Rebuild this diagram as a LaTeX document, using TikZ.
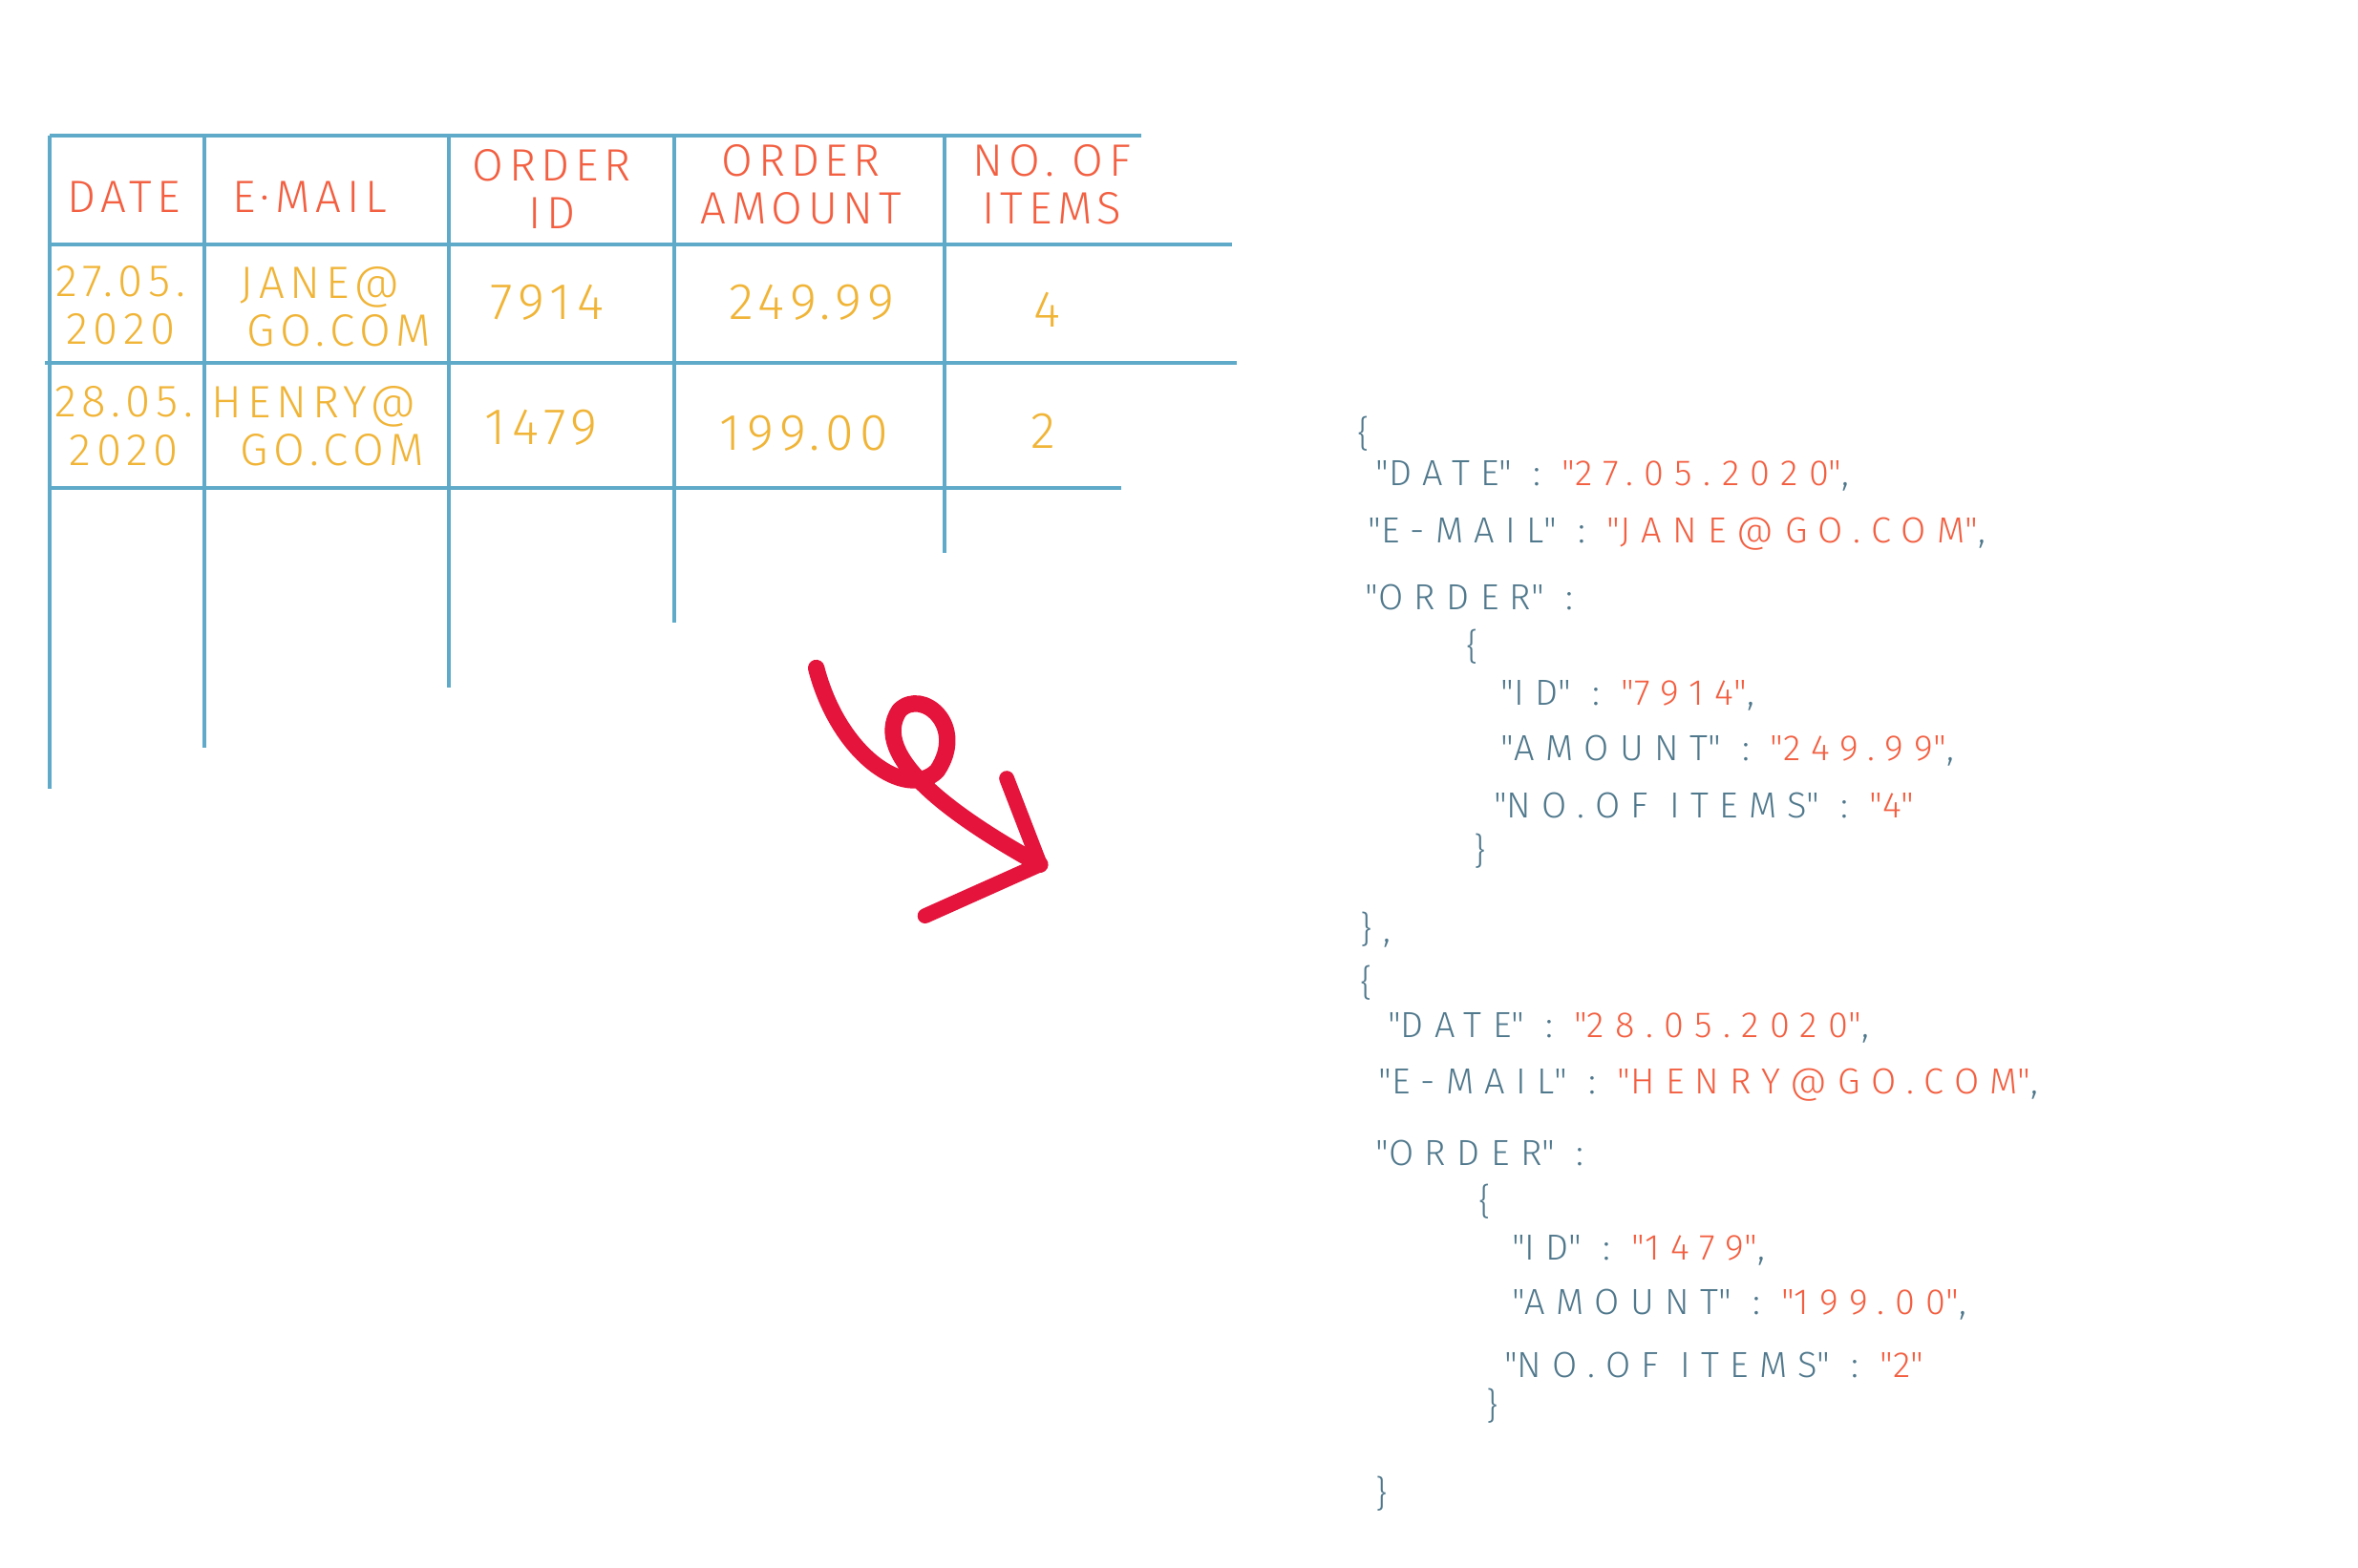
\documentclass[tikz,border=0pt]{standalone}
\usepackage{fontspec}
\setmainfont{Fira Sans Light}[LetterSpace=12]
\definecolor{tblue}{RGB}{95,170,200}
\definecolor{hred}{RGB}{242,95,65}
\definecolor{dyel}{RGB}{240,180,55}
\definecolor{jkey}{RGB}{80,120,140}
\definecolor{arrred}{RGB}{228,20,60}
\tikzset{
    grid/.style={
           draw=tblue, line width=2.5pt
           },
    head/.style={
           text=hred, font=\fontsize{30}{32}\selectfont, inner sep=0pt, align=center
           },
    cell/.style={
           text=dyel, font=\fontsize{34}{34}\selectfont, inner sep=0pt, align=center
           },
    json/.style={
           anchor=west, text=jkey, inner sep=0pt,
           font=\fontsize{24}{26}\selectfont\addfontfeature{LetterSpace=30}
           }
}
\newcommand{\val}[1]{\textcolor{hred}{#1}}
\newcommand{\q}{\textquotedbl}
\begin{document}
\begin{tikzpicture}[x=1pt, y=-1pt]
\useasboundingbox (0,0) rectangle (1560,1037);
   % table lines
   \draw[grid] (33,90) -- (755,90);
   \draw[grid] (33,162) -- (815,162);
   \draw[grid] (30,240) -- (818,240);
   \draw[grid] (33,323) -- (742,323);
   \draw[grid] (33,90) -- (33,522);
   \draw[grid] (135,90) -- (135,495);
   \draw[grid] (297,90) -- (297,455);
   \draw[grid] (446,90) -- (446,412);
   \draw[grid] (625,90) -- (625,366);
   % header
   \node[head] (hdate) at (82,130) {DATE};
   \node[head] (hmail) at (205,130) {E·MAIL};
   \node[head] (hid) at (365,125) {ORDER\\ID};
   \node[head] (hamt) at (530,122) {ORDER\\AMOUNT};
   \node[head] (hno) at (696,122) {NO. OF\\ITEMS};
   % rows
   \node[cell, font=\fontsize{30}{32}\selectfont] (d1) at (80,202) {27.05.\\2020};
   \node[cell, font=\fontsize{30}{32}\selectfont] (m1) at (212,203) {JANE@\\\ \ GO.COM};
   \node[cell] (i1) at (362,200) {7914};
   \node[cell] (a1) at (537,200) {249.99};
   \node[cell] (n1) at (693,205) {4};
   \node[cell, font=\fontsize{30}{32}\selectfont] (d2) at (82,282) {28.05.\\2020};
   \node[cell, font=\fontsize{30}{32}\selectfont] (m2) at (208,282) {HENRY@\\\ \ GO.COM};
   \node[cell] (i2) at (358,283) {1479};
   \node[cell] (a2) at (532,287) {199.00};
   \node[cell] (n2) at (690,285) {2};
   % arrow
   \draw[arrred, line width=11pt, line cap=round, line join=round]
     (540,442) .. controls (555,500) and (600,530) .. (620,510)
     .. controls (640,480) and (610,455) .. (595,470)
     .. controls (575,500) and (630,540) .. (688,572);
   \draw[arrred, line width=10pt, line cap=round, line join=round]
     (666,515) -- (688,572) -- (612,606);
   % json
   \node[json] (j1) at (898,287) {\{};
   \node[json] (j2) at (910,315) {\q DATE\q{} : \val{\q 27.05.2020\q},};
   \node[json] (j3) at (905,353) {\q E-MAIL\q{} : \val{\q JANE@GO.COM\q},};
   \node[json] (j4) at (903,395) {\q ORDER\q{} :};
   \node[json] (j5) at (970,428) {\{};
   \node[json] (j6) at (993,460) {\q ID\q{} : \val{\q 7914\q},};
   \node[json] (j7) at (993,497) {\q AMOUNT\q{} : \val{\q 249.99\q},};
   \node[json] (j8) at (988,533) {\q NO.OF ITEMS\q{} : \val{\q 4\q}};
   \node[json] (j9) at (975,563) {\}};
   \node[json] (j10) at (900,615) {\},};
   \node[json] (j11) at (900,650) {\{};
   \node[json] (j12) at (918,680) {\q DATE\q{} : \val{\q 28.05.2020\q},};
   \node[json] (j13) at (912,718) {\q E-MAIL\q{} : \val{\q HENRY@GO.COM\q},};
   \node[json] (j14) at (910,763) {\q ORDER\q{} :};
   \node[json] (j15) at (978,795) {\{};
   \node[json] (j16) at (1000,827) {\q ID\q{} : \val{\q 1479\q},};
   \node[json] (j17) at (1000,863) {\q AMOUNT\q{} : \val{\q 199.00\q},};
   \node[json] (j18) at (995,903) {\q NO.OF ITEMS\q{} : \val{\q 2\q}};
   \node[json] (j19) at (983,930) {\}};
   \node[json] (j20) at (910,988) {\}};
\end{tikzpicture}
\end{document}
